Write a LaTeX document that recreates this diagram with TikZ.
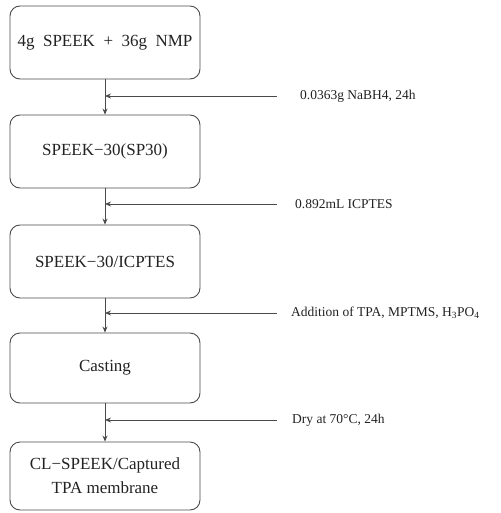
\documentclass[tikz,border=0pt]{standalone}
\usepackage{fontspec}
\setmainfont{Liberation Serif}
\usetikzlibrary{arrows.meta}
\definecolor{linegray}{HTML}{4A4A4A}
\definecolor{inkgray}{HTML}{222222}
\begin{document}
\begin{tikzpicture}[x=1pt,y=-1pt,
  stepbox/.style={draw=linegray, line width=0.9pt, rounded corners=10pt,
    minimum width=190pt, inner sep=0pt, align=center, text=inkgray,
    font=\fontsize{17}{24}\selectfont},
  sidenote/.style={anchor=west, inner sep=0pt, text=inkgray,
    font=\fontsize{13.5}{16}\selectfont},
  flow/.style={draw=linegray, line width=0.8pt, -{Stealth[length=6pt,width=5pt]}}]
  \useasboundingbox (0,0) rectangle (500,513);

  % process steps
  \node[stepbox, minimum height=73pt] (b1) at (105,42.5) {4g\ \ SPEEK\ \ +\ \ 36g\ \ NMP};
  \node[stepbox, minimum height=73pt] (b2) at (105,151.5) {SPEEK−30(SP30)};
  \node[stepbox, minimum height=73pt] (b3) at (105,261.5) {SPEEK−30/ICPTES};
  \node[stepbox, minimum height=70pt] (b4) at (105,368) {Casting};
  \node[stepbox, minimum height=68pt] (b5) at (105,476) {CL−SPEEK/Captured\\TPA membrane};

  % reagents and conditions added between steps
  \coordinate (s1) at (277,96);
  \coordinate (s2) at (277,204);
  \coordinate (s3) at (277,313);
  \coordinate (s4) at (277,420);
  \node[sidenote] (n1) at (300,96) {0.0363g NaBH4, 24h};
  \node[sidenote] (n2) at (295,204) {0.892mL ICPTES};
  \node[sidenote] (n3) at (291,313) {Addition of TPA, MPTMS, H\textsubscript{3}PO\textsubscript{4}};
  \node[sidenote] (n4) at (292,420) {Dry at 70°C, 24h};

  % main flow
  \draw[flow] (b1.south) -- (b2.north);
  \draw[flow] (b2.south) -- (b3.north);
  \draw[flow] (b3.south) -- (b4.north);
  \draw[flow] (b4.south) -- (b5.north);

  % side feeds joining the flow
  \draw[flow] (s1) -- (b1.south |- s1);
  \draw[flow] (s2) -- (b2.south |- s2);
  \draw[flow] (s3) -- (b3.south |- s3);
  \draw[flow] (s4) -- (b4.south |- s4);
\end{tikzpicture}
\end{document}
